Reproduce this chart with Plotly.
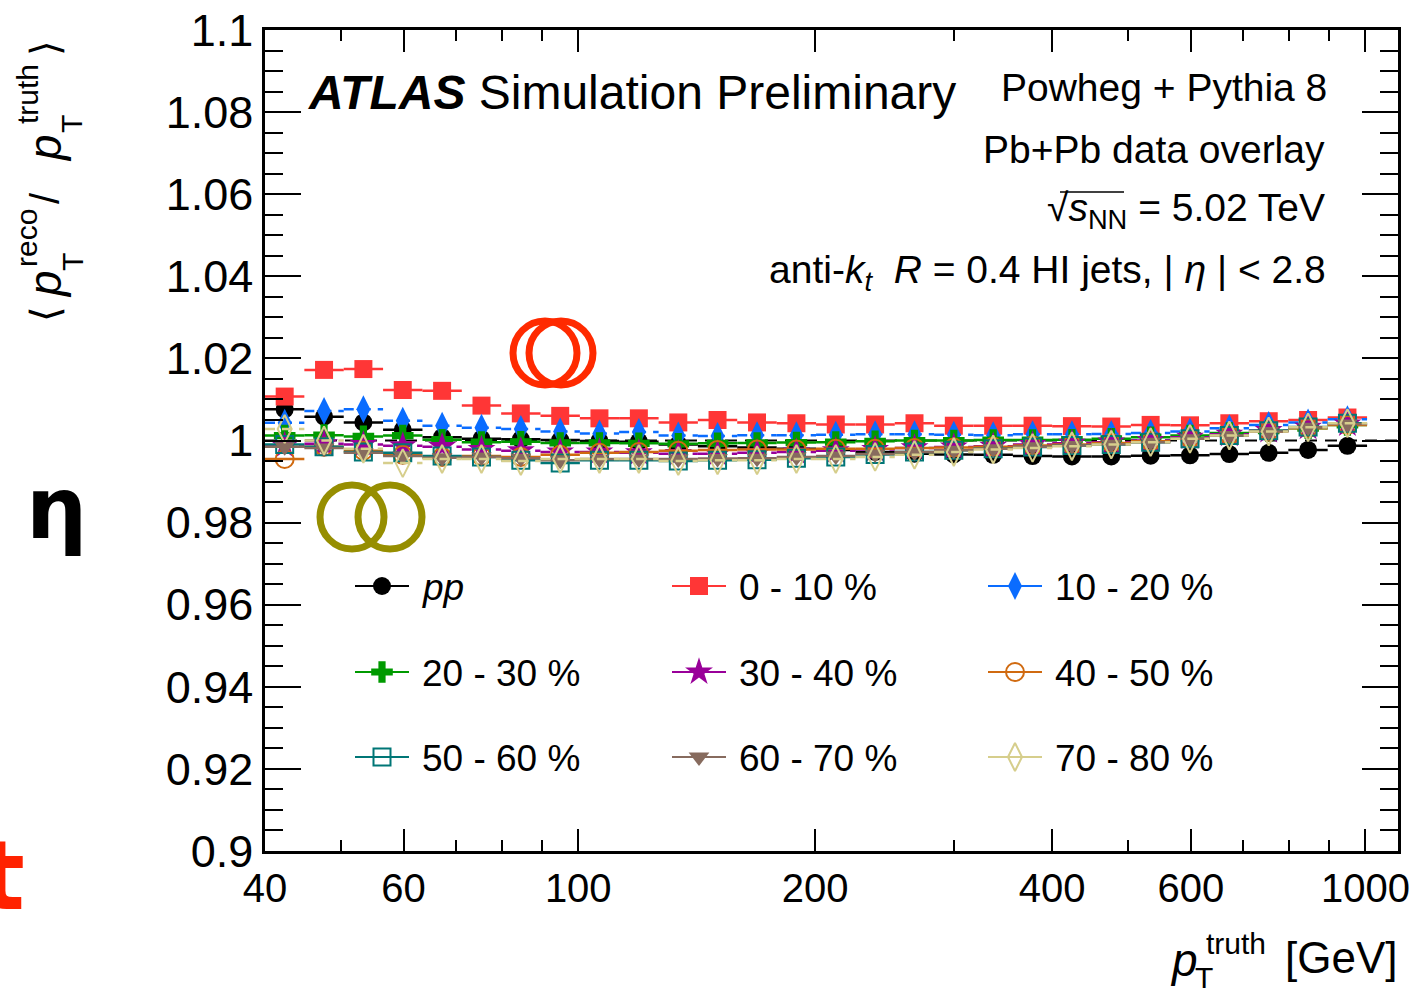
import plotly.graph_objects as go

# ---------------- data ----------------
bin_edges = [40.0, 44.88, 50.36, 56.50, 63.40, 71.13, 79.81, 89.55, 100.48, 112.7, 126.5,
             141.9, 159.2, 178.7, 200.5, 225.0, 252.4, 283.2, 317.8, 356.6, 400.0, 448.8,
             503.6, 565.1, 634.0, 711.3, 798.1, 895.5, 1004.8]
pt_centers = [42.37, 47.54, 53.34, 59.85, 67.15, 75.35, 84.54, 94.86, 106.4, 119.4, 134.0,
              150.3, 168.7, 189.3, 212.4, 238.3, 267.4, 300.0, 336.6, 377.7, 423.8, 475.5,
              533.5, 598.6, 671.6, 753.6, 845.6, 948.8]

r_pp = [1.0076, 1.0058, 1.0044, 1.0026, 1.0008, 1.0004, 1.0003, 1.0001, 0.9999, 0.9997,
        0.9990, 0.9986, 0.9983, 0.9980, 0.9977, 0.9972, 0.9968, 0.9966, 0.9965, 0.9962,
        0.9961, 0.9961, 0.9963, 0.9964, 0.9967, 0.9970, 0.9977, 0.9987]
r_c0_10 = [1.0107, 1.0172, 1.0174, 1.0123, 1.0121, 1.0085, 1.0066, 1.0060, 1.0054, 1.0054,
           1.0044, 1.0050, 1.0044, 1.0042, 1.0039, 1.0039, 1.0042, 1.0036, 1.0036, 1.0036,
           1.0035, 1.0034, 1.0038, 1.0037, 1.0042, 1.0047, 1.0050, 1.0056]
r_c10_20 = [1.0043, 1.0072, 1.0076, 1.0048, 1.0036, 1.0031, 1.0028, 1.0022, 1.0017, 1.0021,
            1.0012, 1.0011, 1.0013, 1.0013, 1.0014, 1.0015, 1.0015, 1.0014, 1.0013, 1.0015,
            1.0015, 1.0016, 1.0018, 1.0022, 1.0030, 1.0038, 1.0044, 1.0052]
r_c20_30 = [1.0012, 1.0013, 1.0010, 1.0012, 1.0002, 0.9996, 0.9997, 0.9994, 0.9994, 0.9993,
            0.9992, 0.9993, 0.9994, 0.9995, 0.9996, 0.9998, 1.0000, 1.0000, 1.0001, 1.0001,
            1.0002, 1.0004, 1.0008, 1.0012, 1.0018, 1.0024, 1.0030, 1.0038]
r_c30_40 = [0.9988, 0.9992, 0.9990, 0.9987, 0.9985, 0.9978, 0.9975, 0.9972, 0.9972, 0.9970,
            0.9968, 0.9968, 0.9970, 0.9972, 0.9975, 0.9978, 0.9982, 0.9984, 0.9986, 0.9990,
            0.9993, 0.9996, 1.0000, 1.0008, 1.0015, 1.0024, 1.0032, 1.0040]
r_c40_50 = [0.9955, 0.9985, 0.9975, 0.9965, 0.9960, 0.9962, 0.9960, 0.9965, 0.9970, 0.9972,
            0.9975, 0.9977, 0.9978, 0.9978, 0.9980, 0.9980, 0.9982, 0.9983, 0.9985, 0.9988,
            0.9990, 0.9994, 0.9998, 1.0005, 1.0013, 1.0022, 1.0030, 1.0038]
r_c50_60 = [0.9990, 0.9985, 0.9972, 0.9970, 0.9962, 0.9960, 0.9952, 0.9945, 0.9952, 0.9952,
            0.9950, 0.9952, 0.9953, 0.9957, 0.9960, 0.9966, 0.9972, 0.9976, 0.9980, 0.9984,
            0.9988, 0.9990, 0.9996, 1.0004, 1.0012, 1.0024, 1.0033, 1.0042]
r_c60_70 = [0.9985, 0.9982, 0.9970, 0.9962, 0.9958, 0.9960, 0.9957, 0.9952, 0.9955, 0.9955,
            0.9955, 0.9956, 0.9957, 0.9960, 0.9962, 0.9967, 0.9972, 0.9976, 0.9980, 0.9985,
            0.9988, 0.9991, 0.9996, 1.0004, 1.0012, 1.0022, 1.0032, 1.0040]
r_c70_80 = [1.0028, 1.0000, 0.9980, 0.9945, 0.9955, 0.9955, 0.9950, 0.9955, 0.9955, 0.9955,
            0.9950, 0.9952, 0.9952, 0.9955, 0.9955, 0.9960, 0.9965, 0.9972, 0.9978, 0.9982,
            0.9986, 0.9990, 0.9996, 1.0004, 1.0012, 1.0022, 1.0032, 1.0042]

series_labels = ["<i>pp</i>", "0 - 10 %", "10 - 20 %", "20 - 30 %", "30 - 40 %",
                 "40 - 50 %", "50 - 60 %", "60 - 70 %", "70 - 80 %"]
series_values = [r_pp, r_c0_10, r_c10_20, r_c20_30, r_c30_40, r_c40_50, r_c50_60, r_c60_70, r_c70_80]

x_tick_vals = [40, 60, 100, 200, 400, 600, 1000]
x_minor_vals = [50, 70, 80, 90, 300, 500, 700, 800, 900]
y_tick_vals = [0.9, 0.92, 0.94, 0.96, 0.98, 1.0, 1.02, 1.04, 1.06, 1.08, 1.1]
y_tick_text = ["0.9", "0.92", "0.94", "0.96", "0.98", "1", "1.02", "1.04", "1.06", "1.08", "1.1"]

# ---------------- styles ----------------
styles = [
    dict(color="#000000", symbol="circle", size=18, dash="solid", lw=0),
    dict(color="#ff3636", symbol="square", size=18, dash="solid", lw=0),
    dict(color="#0a6cff", symbol="diamond-tall", size=20, dash="10px,7px", lw=0),
    dict(color="#009a00", symbol="cross", size=18, dash="solid", lw=0),
    dict(color="#990099", symbol="star", size=21, dash="10px,7px", lw=0),
    dict(color="#d06a10", symbol="circle-open", size=18, dash="solid", lw=2),
    dict(color="#007676", symbol="square-open", size=17, dash="solid", lw=2),
    dict(color="#876b5e", symbol="triangle-down", size=18, dash="solid", lw=0),
    dict(color="#d6ce8c", symbol="diamond-tall-open", size=20, dash="10px,7px", lw=2),
]

W, H = 1414, 995
L, R, T, B = 265, 16, 30, 144
PW, PH = W - L - R, H - T - B


def px(xp):
    return (xp - L) / PW


def py(yp):
    return (H - B - yp) / PH


FONT = "Liberation Sans, Arial, Helvetica, sans-serif"

fig = go.Figure()

# reference dashed line at 1
fig.add_trace(go.Scatter(x=[bin_edges[0], 1100], y=[1, 1], mode="lines",
                         line=dict(color="black", width=2, dash="12px,8px"),
                         showlegend=False, hoverinfo="skip"))

for vals, st in zip(series_values, styles):
    bx, by = [], []
    for lo, hi, v in zip(bin_edges[:-1], bin_edges[1:], vals):
        bx += [lo, hi, None]
        by += [v, v, None]
    fig.add_trace(go.Scatter(x=bx, y=by, mode="lines",
                             line=dict(color=st["color"], width=2.5, dash=st["dash"]),
                             showlegend=False, hoverinfo="skip"))
    fig.add_trace(go.Scatter(x=pt_centers, y=vals, mode="markers",
                             marker=dict(color=st["color"], symbol=st["symbol"], size=st["size"],
                                         line=dict(color=st["color"], width=st["lw"])),
                             showlegend=False))

# ---------------- legend (drawn on an overlay axis, 3 columns x 3 rows) ----------------
leg_line_x0 = [355, 672, 988]
leg_row_y = [586, 672, 757]
leg_line_len = 54
ann = []


def add_text(text, xp, yp, size, xanchor="center", yanchor="middle", color="black",
             angle=0, family=FONT):
    ann.append(dict(text=text, x=px(xp), y=py(yp), xref="paper", yref="paper",
                    xanchor=xanchor, yanchor=yanchor, showarrow=False, textangle=angle,
                    font=dict(size=size, color=color, family=family)))


for i, (lab, st) in enumerate(zip(series_labels, styles)):
    col, row = i % 3, i // 3
    x0 = leg_line_x0[col]
    yy = leg_row_y[row]
    fig.add_trace(go.Scatter(x=[px(x0), px(x0 + leg_line_len)], y=[py(yy), py(yy)],
                             xaxis="x2", yaxis="y2", mode="lines",
                             line=dict(color=st["color"], width=2, dash="solid"),
                             showlegend=False, hoverinfo="skip"))
    fig.add_trace(go.Scatter(x=[px(x0 + leg_line_len / 2)], y=[py(yy)],
                             xaxis="x2", yaxis="y2", mode="markers",
                             marker=dict(color=st["color"], symbol=st["symbol"], size=st["size"],
                                         line=dict(color=st["color"], width=st["lw"])),
                             showlegend=False, hoverinfo="skip"))
    add_text(lab, x0 + leg_line_len + 11, yy + 1, 37, xanchor="left")

axis_common = dict(showline=True, linecolor="black", linewidth=2.5, mirror="ticks",
                   ticks="inside", tickcolor="black", showgrid=False, zeroline=False,
                   automargin=False)

fig.update_layout(
    width=W, height=H, margin=dict(l=L, r=R, t=T, b=B, autoexpand=False),
    paper_bgcolor="white", plot_bgcolor="white",
    font=dict(family=FONT, color="black"),
    showlegend=False,
    xaxis=dict(type="log", range=[1.60206, 3.04139], tickvals=x_tick_vals,
               ticktext=[str(v) for v in x_tick_vals], ticklen=22, tickwidth=2,
               tickfont=dict(size=40, family=FONT), ticklabelstandoff=0,
               minor=dict(tickvals=x_minor_vals, ticklen=11, tickwidth=2, ticks="inside",
                          tickcolor="black"),
               **axis_common),
    yaxis=dict(range=[0.9, 1.1], tickvals=y_tick_vals, ticktext=y_tick_text, ticklen=36,
               tickwidth=2, tickfont=dict(size=45, family=FONT),
               minor=dict(dtick=0.005, tick0=0.9, ticklen=18, tickwidth=2, ticks="inside",
                          tickcolor="black"),
               **axis_common),
    xaxis2=dict(overlaying="x", range=[0, 1], visible=False, fixedrange=True),
    yaxis2=dict(overlaying="y", range=[0, 1], visible=False, fixedrange=True),
)

add_text("<b><i>ATLAS</i></b> Simulation Preliminary", 306, 92, 48, xanchor="left")
add_text("Powheg + Pythia 8", 1329, 88, 39, xanchor="right")
add_text("Pb+Pb data overlay", 1327, 150, 39, xanchor="right")
add_text("√<i>s</i><sub>NN</sub> = 5.02 TeV", 1327, 210, 39, xanchor="right")
add_text("anti-<i>k</i><sub><i>t</i></sub>  <i>R</i> = 0.4 HI jets, | <i>η</i> | &lt; 2.8",
         1328, 272, 39, xanchor="right")

# x-axis title
add_text("[GeV]", 1400, 958, 44, xanchor="right")
add_text("<i>p</i>", 1184, 960, 46)
add_text("truth", 1236, 944, 30)
add_text("T", 1204, 977, 30)

# y-axis title (rotated)
add_text("⟨", 45, 314, 40, angle=-90)
add_text("<i>p</i>", 45, 284, 46, angle=-90)
add_text("T", 72, 262, 30, angle=-90)
add_text("reco", 27, 238, 30, angle=-90)
add_text("/", 45, 198, 40, angle=-90)
add_text("<i>p</i>", 45, 148, 46, angle=-90)
add_text("T", 72, 124, 30, angle=-90)
add_text("truth", 27, 94, 30, angle=-90)
add_text("⟩", 45, 48, 40, angle=-90)

# overlay glyphs
add_text("<b>η</b>", 56, 508, 86, family="DejaVu Sans, sans-serif")
add_text("<b>t</b>", 2, 876, 96, color="#ff2200", family="DejaVu Sans, sans-serif")

fig.update_layout(annotations=ann)

# overlay rings and radical overline
shapes = []
for cx, cy, col in [(545, 353, "#ff2a00"), (561, 353, "#ff2a00"),
                    (352, 517, "#968e00"), (390, 517, "#968e00")]:
    r = 32
    shapes.append(dict(type="circle", xref="paper", yref="paper",
                       x0=px(cx - r), x1=px(cx + r), y0=py(cy + r), y1=py(cy - r),
                       line=dict(color=col, width=7)))
shapes.append(dict(type="line", xref="paper", yref="paper",
                   x0=px(1060), x1=px(1124), y0=py(192), y1=py(192),
                   line=dict(color="black", width=1.5)))
fig.update_layout(shapes=shapes)

fig.write_html("out.html")
